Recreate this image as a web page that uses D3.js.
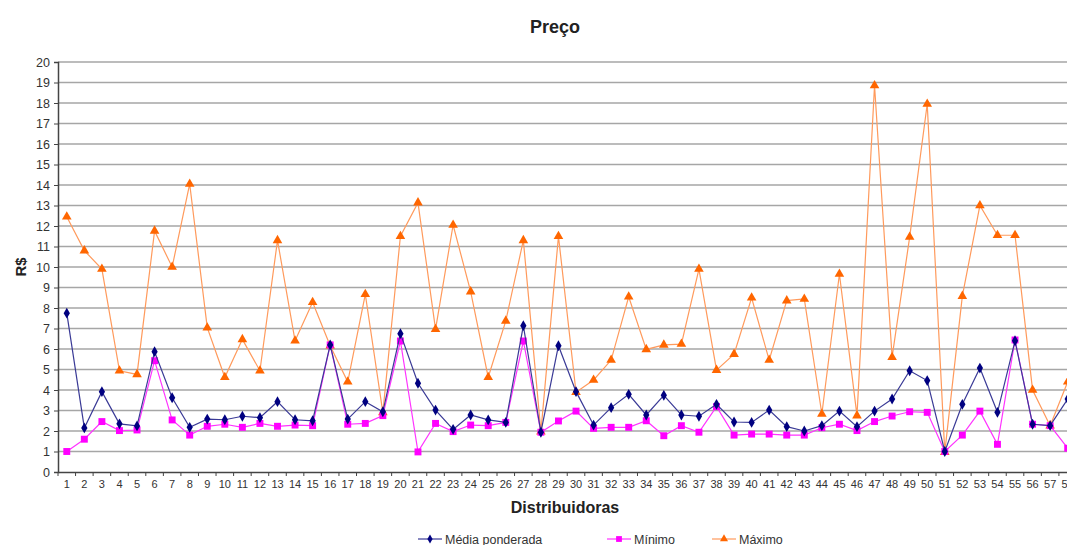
<!DOCTYPE html>
<html>
<head>
<meta charset="utf-8">
<script src="https://cdn.jsdelivr.net/npm/d3@7"></script>
<style>
  html, body { margin: 0; padding: 0; background: #fff; overflow: hidden; }
  svg { display: block; font-family: "Liberation Sans", Arial, sans-serif; }
</style>
</head>
<body>
<div id="chart"></div>
<script>
// ── Data ──────────────────────────────────────────────────────────────────────
const distribuidoras = d3.range(1, 59);
const yTicks = d3.range(0, 21);

const mediaPonderada = [
  7.75, 2.15, 3.92, 2.35, 2.25, 5.87, 3.62, 2.18, 2.58, 2.55,
  2.72, 2.65, 3.43, 2.55, 2.5, 6.2, 2.58, 3.43, 2.94, 6.75,
  4.33, 3.02, 2.08, 2.78, 2.54, 2.42, 7.14, 1.94, 6.16, 3.92,
  2.29, 3.14, 3.79, 2.78, 3.74, 2.78, 2.72, 3.3, 2.44, 2.42,
  3.02, 2.21, 2.0, 2.26, 2.97, 2.21, 2.97, 3.56, 4.94, 4.46,
  1.0, 3.3, 5.07, 2.91, 6.4, 2.33, 2.26, 3.56
];
const minimo = [
  1.0, 1.6, 2.46, 2.02, 2.05, 5.43, 2.54, 1.8, 2.23, 2.33,
  2.18, 2.37, 2.23, 2.29, 2.26, 6.2, 2.33, 2.37, 2.75, 6.39,
  0.98, 2.37, 1.97, 2.29, 2.26, 2.42, 6.39, 1.94, 2.49, 2.97,
  2.13, 2.18, 2.18, 2.5, 1.77, 2.26, 1.94, 3.19, 1.8, 1.85,
  1.85, 1.8, 1.8, 2.16, 2.33, 2.02, 2.46, 2.73, 2.94, 2.91,
  1.0, 1.8, 2.97, 1.35, 6.44, 2.33, 2.26, 1.16
];
const maximo = [
  12.45, 10.8, 9.9, 4.94, 4.76, 11.76, 10.0, 14.05, 7.04, 4.62,
  6.47, 4.94, 11.3, 6.4, 8.28, 6.16, 4.4, 8.67, 2.9, 11.5,
  13.14, 6.96, 12.05, 8.8, 4.62, 7.37, 11.3, 1.97, 11.5, 3.89,
  4.49, 5.46, 8.55, 5.98, 6.2, 6.24, 9.9, 4.97, 5.75, 8.5,
  5.46, 8.36, 8.44, 2.83, 9.66, 2.75, 18.85, 5.6, 11.46, 17.95,
  0.97, 8.58, 13.0, 11.55, 11.55, 4.0, 2.26, 4.4
];

const series = [
  { name: 'Média ponderada', values: mediaPonderada, line: '#3a3a96', mark: '#000080', symbol: d3.symbolDiamond, size: 34 },
  { name: 'Mínimo',          values: minimo,         line: '#ff33ff', mark: '#ff00ff', symbol: d3.symbolSquare,  size: 48 },
  { name: 'Máximo',          values: maximo,         line: '#ff9a5c', mark: '#ff6600', symbol: d3.symbolTriangle, size: 40 },
];

// ── Layout ────────────────────────────────────────────────────────────────────
const W = 1067, H = 545;
const M = { left: 58, top: 62, bottom: 73 };
const bandW = 17.56;

const svg = d3.select('#chart').append('svg').attr('width', W).attr('height', H);

const x = d3.scaleBand()
  .domain(distribuidoras)
  .range([M.left, M.left + distribuidoras.length * bandW])
  .padding(0);
const y = d3.scaleLinear().domain([0, 20]).range([H - M.bottom, M.top]);
const cx = d => x(d) + x.bandwidth() / 2;

// ── Grid ──────────────────────────────────────────────────────────────────────
svg.append('g').selectAll('line').data(yTicks.filter(t => t > 0)).join('line')
  .attr('x1', M.left).attr('x2', W)
  .attr('y1', d => y(d)).attr('y2', d => y(d))
  .attr('stroke', '#a6a6a6').attr('stroke-width', 1.6);

// ── Axes ──────────────────────────────────────────────────────────────────────
const yAxis = svg.append('g').attr('transform', `translate(${M.left},0)`)
  .call(d3.axisLeft(y).tickValues(yTicks).tickSize(4).tickPadding(4).tickFormat(d3.format('d')));
yAxis.select('.domain').attr('stroke', '#444').attr('stroke-width', 1.5);
yAxis.selectAll('.tick line').attr('stroke', '#444');
yAxis.selectAll('text').attr('fill', '#333').attr('font-size', 12.5);

const xAxis = svg.append('g').attr('transform', `translate(0,${y(0)})`)
  .call(d3.axisBottom(x).tickSize(0).tickPadding(8));
xAxis.select('.domain').attr('stroke', '#444').attr('stroke-width', 1.5);
xAxis.selectAll('text').attr('fill', '#333').attr('font-size', 11);

// tick marks between categories
svg.append('g').selectAll('line').data(distribuidoras).join('line')
  .attr('x1', d => x(d)).attr('x2', d => x(d))
  .attr('y1', y(0)).attr('y2', y(0) + 4)
  .attr('stroke', '#444');

// ── Series ────────────────────────────────────────────────────────────────────
const line = d3.line().x((v, i) => cx(distribuidoras[i])).y(v => y(v));

// draw order: orange first, then magenta, then blue on top
[series[2], series[1], series[0]].forEach(s => {
  const g = svg.append('g');
  g.append('path').datum(s.values)
    .attr('d', line).attr('fill', 'none')
    .attr('stroke', s.line).attr('stroke-width', 1.2);
  g.selectAll('path.m').data(s.values).join('path')
    .attr('class', 'm')
    .attr('transform', (v, i) => `translate(${cx(distribuidoras[i])},${y(v)})`)
    .attr('d', d3.symbol().type(s.symbol).size(s.size))
    .attr('fill', s.mark);
});

// ── Titles ────────────────────────────────────────────────────────────────────
svg.append('text').attr('x', 555).attr('y', 33)
  .attr('text-anchor', 'middle').attr('font-size', 18).attr('font-weight', 'bold')
  .attr('fill', '#222').text('Preço');

svg.append('text')
  .attr('transform', `translate(26,${y(10)}) rotate(-90)`)
  .attr('text-anchor', 'middle').attr('font-size', 15).attr('font-weight', 'bold')
  .attr('fill', '#222').text('R$');

svg.append('text').attr('x', 565).attr('y', 513)
  .attr('text-anchor', 'middle').attr('font-size', 16).attr('font-weight', 'bold')
  .attr('fill', '#222').text('Distribuidoras');

// ── Legend ────────────────────────────────────────────────────────────────────
const legendX = [418, 607, 712];
const legend = svg.append('g');
series.forEach((s, i) => {
  const lg = legend.append('g').attr('transform', `translate(${legendX[i]},539)`);
  lg.append('line').attr('x1', 0).attr('x2', 24).attr('stroke', s.line).attr('stroke-width', 1.2);
  lg.append('path').attr('transform', 'translate(12,0)')
    .attr('d', d3.symbol().type(s.symbol).size(s.size * 0.7)).attr('fill', s.mark);
  lg.append('text').attr('x', 27).attr('y', 4.5)
    .attr('font-size', 12.5).attr('fill', '#333').text(s.name);
});
</script>
</body>
</html>
